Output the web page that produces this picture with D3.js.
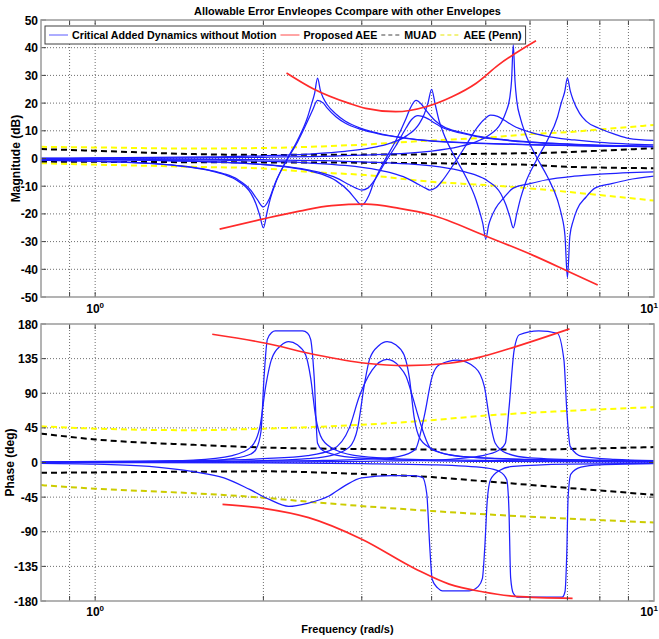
<!DOCTYPE html>
<html>
<head>
<meta charset="utf-8">
<script src="https://cdn.jsdelivr.net/npm/d3@7"></script>
<style>
  body { margin: 0; background: #fff; }
  svg { display: block; }
  text { font-family: Arial, "Liberation Sans", sans-serif; font-weight: bold; fill: #000; }
</style>
</head>
<body>
<svg id="chart" width="659" height="639"></svg>
<script>
// ---------- axis ticks ----------
const freqGrid = [0.9, 1, 2, 3, 4, 5, 6, 7, 8, 9];
const magTicks = [-50, -40, -30, -20, -10, 0, 10, 20, 30, 40, 50];
const phaseTicks = [-180, -135, -90, -45, 0, 45, 90, 135, 180];
const decadeLabels = [1, 10];

// ---------- envelopes: magnitude (dB) ----------
const aeeMagUpper = [[2.2,30.9],[2.45,25.3],[2.85,19.9],[3.05,18.1],[3.45,16.9],[3.91,18.7],[4.35,22.3],[4.8,27.1],[5.27,33.8],[6.15,42.5]];
const aeeMagLower = [[1.67,-25.5],[2.0,-21.8],[2.32,-19],[2.65,-17],[3.05,-16.5],[3.5,-18],[4.0,-20.4],[5.0,-28],[6.05,-34.8],[6.98,-40.5],[7.93,-45.7]];
const muadMagUpper = [[0.8,3.4],[1.0,2.8],[1.5,1.6],[2,1.3],[3,1.4],[5,1.7],[7,2.3],[8,2.8],[10,3.7]];
const muadMagLower = [[0.8,-1.1],[1,-1.2],[2,-1.4],[3,-1.5],[4,-1.7],[5,-2.0],[6,-2.3],[7,-3.0],[10,-3.5]];
const pennMagUpper = [[0.8,4.2],[1,4.0],[1.5,3.6],[2,3.8],[3,5.0],[4,6.5],[5,7.5],[6,8.8],[7,9.5],[8,10.5],[10,12.1]];
const pennMagLower = [[0.8,-1.7],[1.0,-2.2],[1.5,-3.0],[2.0,-3.6],[2.4,-4.8],[3.05,-6],[4.0,-8.4],[5.0,-9.6],[6.0,-10.8],[8.0,-13.2],[10,-15.2]];

// ---------- envelopes: phase (deg) ----------
const aeePhaseUpper = [[1.62,166.7],[2.02,155],[2.48,140],[3.05,129],[3.6,126],[4.3,129],[4.93,137.7],[5.66,150.6],[7.06,173.6]];
const aeePhaseLower = [[1.69,-54.4],[2.0,-59.6],[2.41,-71.7],[3.0,-99.7],[3.75,-138.6],[4.3,-158],[4.93,-168],[5.65,-174],[7.15,-176.6]];
const muadPhaseUpper = [[0.8,37.6],[1.0,30],[1.5,23],[2,19.5],[3,17.5],[4,17],[6,16.8],[8,18.5],[10,20]];
const muadPhaseLower = [[0.8,-13.4],[1.5,-12],[2,-11.5],[3,-15],[4,-19],[5,-24.5],[7,-33],[10,-42]];
const pennPhaseUpper = [[0.8,47],[1,44],[1.5,42],[2,44],[3,49],[4,55],[5,61],[7,67],[10,72]];
const pennPhaseLower = [[0.8,-29.4],[1.0,-34],[1.5,-40],[2,-45.8],[2.5,-52],[4,-63],[5.65,-69.5],[10,-78]];

// ---------- critical added dynamics: magnitude (dB) ----------
const magCase1 = [[0.8,-0.58],[1.0,-0.98],[1.2,-1.6],[1.4,-2.58],[1.6,-4.3],[1.7,-5.75],[1.8,-8.08],[1.9,-12.6],[1.94,-16.4],[1.97,-20.5],[2.0,-25],[2.03,-19.5],[2.06,-14.2],[2.1,-9.2],[2.2,-0.62],[2.3,6.44],[2.4,15],[2.44,19.8],[2.47,23.5],[2.5,29],[2.53,24.5],[2.56,21.8],[2.6,19.5],[2.7,16],[2.8,13.5],[3.0,10.8],[3.2,9.2],[3.6,7.4],[4.0,6.4],[5.0,5.5],[6.0,5.0],[8.0,4.5],[10,4.3]];
const magCase2 = [[0.8,-0.58],[1.0,-0.98],[1.2,-1.6],[1.4,-2.55],[1.6,-4.2],[1.7,-5.5],[1.8,-7.6],[1.9,-11.5],[1.95,-14.8],[2.0,-17.5],[2.05,-14.5],[2.1,-8.8],[2.2,-0.8],[2.3,5.8],[2.4,13.5],[2.45,17.5],[2.5,21],[2.56,20],[2.6,18.3],[2.7,15],[2.8,12.8],[3.0,10.4],[3.2,9.0],[3.6,7.3],[4.0,6.3],[5.0,5.4],[6.0,4.9],[8.0,4.5],[10,4.3]];
const magCase3 = [[0.8,-0.23],[1.0,-0.37],[1.5,-0.98],[1.8,-1.6],[2.1,-2.58],[2.4,-4.3],[2.55,-5.75],[2.7,-8.08],[2.85,-12],[2.91,-14.2],[3.0,-16.8],[3.09,-13.3],[3.15,-8.8],[3.3,-0.6],[3.45,6.4],[3.6,14.4],[3.66,18],[3.75,21],[3.84,19.5],[3.9,17.6],[4.05,13.8],[4.2,11.5],[4.5,9.5],[4.8,8.2],[5.4,6.8],[6.0,6.0],[7.5,5.0],[10,4.4]];
const magCase4 = [[0.8,-0.23],[1.0,-0.37],[1.5,-0.98],[1.8,-1.6],[2.1,-2.5],[2.4,-4.1],[2.55,-5.3],[2.7,-7.0],[2.85,-9.5],[2.93,-10.7],[3.0,-11.4],[3.08,-10.6],[3.15,-8.3],[3.3,-1.5],[3.45,4.5],[3.6,11],[3.68,14],[3.78,15.5],[3.85,15.2],[3.95,14.2],[4.05,12.8],[4.2,11],[4.5,9.2],[4.8,8],[5.4,6.6],[6.0,5.8],[7.5,4.9],[10,4.4]];
const magCase5 = [[0.8,-0.13],[1.0,-0.2],[1.6,-0.58],[2.0,-0.98],[2.4,-1.6],[2.8,-2.5],[3.2,-4.1],[3.4,-5.3],[3.6,-7.0],[3.8,-9.5],[3.9,-10.7],[3.97,-11.4],[4.07,-10.6],[4.17,-8.3],[4.4,-1.5],[4.6,4.5],[4.8,10.5],[4.95,13.8],[5.1,15.7],[5.25,15.2],[5.4,13.8],[5.6,11.8],[6.0,9.5],[6.4,8.1],[7.2,6.7],[8.0,5.8],[10,4.9]];
const magCase6 = [[0.8,0.13],[1.0,0.2],[1.6,0.58],[2.0,0.98],[2.4,1.6],[2.8,2.58],[3.2,4.3],[3.4,5.75],[3.6,8.08],[3.8,12.5],[3.88,16],[3.94,20],[4.0,25],[4.06,19.5],[4.12,14],[4.2,9.1],[4.4,0.62],[4.6,-6.4],[4.8,-14.8],[4.88,-19.5],[4.94,-23.5],[5.0,-29],[5.06,-24],[5.12,-21],[5.2,-18.2],[5.4,-13.9],[5.6,-10.7],[6.0,-9.07],[6.4,-7.76],[7.2,-6.39],[8.0,-5.68],[10,-4.86]];
const magCase7 = [[0.8,-0.07],[1.0,-0.1],[2.0,-0.45],[3.0,-1.2],[4.0,-2.7],[4.48,-4.3],[4.76,-5.75],[5.04,-8.08],[5.32,-12.7],[5.43,-16.6],[5.52,-21],[5.6,-25],[5.68,-20],[5.77,-14.4],[5.88,-9.2],[6.16,-0.62],[6.44,6.44],[6.72,15],[6.83,20.3],[6.92,24],[7.0,29],[7.08,24.5],[7.17,21],[7.36,16.3],[7.56,13.5],[7.97,10.9],[8.5,8.8],[9.0,7.3],[10,6.5]];
const magCase8 = [[0.8,0.07],[1.0,0.1],[2.0,0.45],[3.0,1.2],[4.0,2.7],[4.48,4.3],[4.76,5.75],[5.04,8.08],[5.32,12.7],[5.43,16.6],[5.52,22],[5.56,28],[5.6,41],[5.64,28],[5.68,21],[5.77,14.4],[5.88,9.2],[6.16,0.62],[6.44,-6.44],[6.72,-15],[6.83,-20.3],[6.93,-28],[7.0,-43],[7.07,-28],[7.17,-22.4],[7.28,-18.5],[7.56,-13.9],[7.84,-10.7],[8.4,-9.07],[8.96,-7.76],[10,-6.4]];

// ---------- critical added dynamics: phase (deg) ----------
const phaseCase1 = [[0.8,0.2],[1.2,0.6],[1.5,1.5],[1.76,5],[1.9,11],[1.94,17],[1.98,40],[2.006,112],[2.033,160],[2.07,169],[2.1,171],[2.35,171],[2.4,168],[2.43,160],[2.465,112],[2.5,25],[2.55,16],[2.66,11],[2.85,7],[3.5,3.5],[5,1.5],[10,0.5]];
const phaseCase2 = [[0.8,0.5],[1.2,1.2],[1.5,3],[1.76,9],[1.9,20],[1.97,45],[2.02,100],[2.07,135],[2.15,152],[2.22,157],[2.3,153],[2.38,140],[2.43,110],[2.48,60],[2.55,30],[2.7,16],[3.0,8],[4.0,3.5],[10,1]];
const phaseCase3 = [[0.8,0.3],[1.5,1.2],[2.0,2.5],[2.4,5],[2.64,9],[2.85,20],[2.95,45],[3.03,100],[3.1,135],[3.22,152],[3.33,157],[3.45,153],[3.57,140],[3.65,110],[3.72,60],[3.82,30],[4.05,16],[4.5,8],[6,3.5],[10,1.5]];
const phaseCase4 = [[0.8,0.8],[1.5,2.5],[2.0,5],[2.4,9],[2.66,17],[2.85,45],[2.97,86],[3.13,120],[3.33,134],[3.5,125],[3.6,112],[3.7,85],[3.8,56],[4.0,17],[4.5,8],[6,4],[10,2]];
const phaseCase5 = [[0.8,0.3],[1.5,1],[2.5,2.5],[3.2,5],[3.5,8],[3.74,17],[3.88,60],[4.01,112],[4.13,127],[4.45,133],[4.79,123],[4.97,99],[5.07,60],[5.2,25],[5.43,12.5],[6,6],[8,3],[10,2]];
const phaseCase6 = [[0.8,-1],[1.0,-2],[1.25,-5],[1.5,-12],[1.7,-20],[1.89,-35],[2.05,-48],[2.22,-57],[2.4,-53],[2.62,-43.6],[2.8,-30],[3.0,-20],[3.4,-17],[3.7,-17],[3.85,-19],[3.92,-40],[3.97,-110],[4.01,-152],[4.1,-163],[4.18,-166.7],[4.67,-166.7],[4.85,-161],[4.93,-151],[4.98,-110],[5.03,-50],[5.1,-22],[5.3,-10],[5.6,-5],[7,-2],[10,-1]];
const phaseCase7 = [[0.8,0.1],[2,0.6],[3,1.5],[4,3],[4.6,6],[5.0,10],[5.3,17],[5.42,25],[5.5,69],[5.62,146],[5.74,166],[6.22,171],[6.71,168],[6.9,133],[6.98,69],[7.08,21],[7.43,8],[8.5,4],[10,2.5]];
const phaseCase8 = [[0.8,-0.1],[2,-0.6],[3,-1.5],[4,-3],[5,-7],[5.3,-12],[5.45,-22],[5.5,-60],[5.54,-150],[5.6,-170],[5.7,-175],[6.85,-175],[6.93,-168],[6.98,-120],[7.02,-45],[7.1,-15],[7.4,-6],[8,-3],[10,-1.5]];

const magCases = [magCase1, magCase2, magCase3, magCase4, magCase5, magCase6, magCase7, magCase8];
const phaseCases = [phaseCase1, phaseCase2, phaseCase3, phaseCase4, phaseCase5, phaseCase6, phaseCase7, phaseCase8];

const legendItems = [
  { label: "Critical Added Dynamics without Motion", color: "#5b5bff", dash: null },
  { label: "Proposed AEE", color: "#ff4a4a", dash: null },
  { label: "MUAD", color: "#444", dash: "4,3" },
  { label: "AEE (Penn)", color: "#e6e600", dash: "4,3" }
];

// ---------- layout ----------
const svg = d3.select("#chart");
const left = 41, right = 654;
const x = d3.scaleLog().domain([0.8, 10]).range([left, right]);
const yMag = d3.scaleLinear().domain([-50, 50]).range([297, 20]);
const yPh = d3.scaleLinear().domain([-180, 180]).range([601, 324]);

const BLUE = "#1f1fff", RED = "#ff2a2a", BLACK = "#000", YELLOW = "#ffff00", OLIVE = "#cccc00";

function drawPanel(id, y, ticks) {
  const top = y.range()[1], bottom = y.range()[0];
  const g = svg.append("g");
  g.append("rect").attr("x", left).attr("y", top).attr("width", right - left).attr("height", bottom - top).attr("fill", "#fff");

  // dotted grid
  g.append("g").selectAll("line").data(freqGrid).join("line")
    .attr("x1", d => x(d)).attr("x2", d => x(d)).attr("y1", top).attr("y2", bottom)
    .attr("stroke", "#6e6e6e").attr("stroke-width", 1).attr("stroke-dasharray", "1,2");
  g.append("g").selectAll("line").data(ticks.slice(1, -1)).join("line")
    .attr("x1", left).attr("x2", right).attr("y1", d => y(d)).attr("y2", d => y(d))
    .attr("stroke", "#6e6e6e").attr("stroke-width", 1).attr("stroke-dasharray", "1,2");

  svg.append("clipPath").attr("id", id).append("rect")
    .attr("x", left).attr("y", top).attr("width", right - left).attr("height", bottom - top);
  const plot = svg.append("g").attr("clip-path", `url(#${id})`);
  return { g, plot, top, bottom };
}

function drawFrame(y, ticks, labelY) {
  const top = y.range()[1], bottom = y.range()[0];
  const f = svg.append("g");
  // tick marks
  f.selectAll("line.xt").data(freqGrid).join("line")
    .attr("x1", d => x(d)).attr("x2", d => x(d)).attr("y1", bottom).attr("y2", bottom - 5)
    .attr("stroke", "#444").attr("stroke-width", 1);
  f.selectAll("line.xt2").data(freqGrid).join("line")
    .attr("x1", d => x(d)).attr("x2", d => x(d)).attr("y1", top).attr("y2", top + 5)
    .attr("stroke", "#444").attr("stroke-width", 1);
  f.selectAll("line.yt").data(ticks).join("line")
    .attr("x1", left).attr("x2", left + 5).attr("y1", d => y(d)).attr("y2", d => y(d))
    .attr("stroke", "#444");
  f.selectAll("line.yt2").data(ticks).join("line")
    .attr("x1", right).attr("x2", right - 5).attr("y1", d => y(d)).attr("y2", d => y(d))
    .attr("stroke", "#444");
  f.append("rect").attr("x", left).attr("y", top).attr("width", right - left).attr("height", bottom - top)
    .attr("fill", "none").attr("stroke", "#9a9a9a").attr("stroke-width", 1.5);
  // y tick labels
  f.selectAll("text.yl").data(ticks).join("text")
    .attr("x", left - 3).attr("y", d => y(d) + 4.5).attr("text-anchor", "end")
    .style("font-size", "12px").text(d => d);
  // decade labels (the last one is kept inside the window)
  decadeLabels.forEach(v => {
    const t = f.append("text").attr("y", labelY).style("font-size", "12px");
    t.append("tspan").text("10");
    t.append("tspan").attr("dy", -5).style("font-size", "8px").text(Math.round(Math.log10(v)));
    const w = t.node().getComputedTextLength();
    let px = x(v) - w / 2;
    if (px + w > 658) px = 658 - w;
    t.attr("x", px);
  });
}

// ---- magnitude panel ----
const magPanel = drawPanel("clipMag", yMag, magTicks);
const lmag = d3.line().x(d => x(d[0])).y(d => yMag(d[1])).curve(d3.curveMonotoneX);
function pathMag(data, color, w, dash) {
  magPanel.plot.append("path").attr("d", lmag(data)).attr("fill", "none")
    .attr("stroke", color).attr("stroke-width", w).attr("stroke-dasharray", dash);
}
[pennMagUpper, pennMagLower].forEach(d => pathMag(d, YELLOW, 2, "6,4"));
[muadMagUpper, muadMagLower].forEach(d => pathMag(d, BLACK, 2, "6,4"));
magCases.forEach(d => pathMag(d, BLUE, 1.25, null));
[aeeMagUpper, aeeMagLower].forEach(d => pathMag(d, RED, 1.7, null));
drawFrame(yMag, magTicks, 313);

// ---- phase panel ----
const phPanel = drawPanel("clipPh", yPh, phaseTicks);
const lph = d3.line().x(d => x(d[0])).y(d => yPh(d[1])).curve(d3.curveMonotoneX);
function pathPh(data, color, w, dash) {
  phPanel.plot.append("path").attr("d", lph(data)).attr("fill", "none")
    .attr("stroke", color).attr("stroke-width", w).attr("stroke-dasharray", dash);
}
pathPh(pennPhaseUpper, YELLOW, 2, "6,4");
pathPh(pennPhaseLower, OLIVE, 2, "6,4");
[muadPhaseUpper, muadPhaseLower].forEach(d => pathPh(d, BLACK, 2, "6,4"));
phaseCases.forEach(d => pathPh(d, BLUE, 1.25, null));
[aeePhaseUpper, aeePhaseLower].forEach(d => pathPh(d, RED, 1.7, null));
drawFrame(yPh, phaseTicks, 616);

// ---- titles and axis labels ----
svg.append("text").attr("x", (left + right) / 2).attr("y", 15).attr("text-anchor", "middle")
  .style("font-size", "10.9px").text("Allowable Error Envleopes Ccompare with other Envelopes");
svg.append("text").attr("transform", `translate(20,${yMag(0)}) rotate(-90)`).attr("text-anchor", "middle")
  .style("font-size", "12px").text("Magnitude (dB)");
svg.append("text").attr("transform", `translate(14,${yPh(0)}) rotate(-90)`).attr("text-anchor", "middle")
  .style("font-size", "12px").text("Phase (deg)");
svg.append("text").attr("x", (left + right) / 2).attr("y", 633).attr("text-anchor", "middle")
  .style("font-size", "11px").text("Frequency  (rad/s)");

// ---- legend ----
const lg = svg.append("g");
const box = lg.append("rect").attr("x", 45).attr("y", 26).attr("height", 18).attr("fill", "#fff")
  .attr("stroke", "#404040").attr("stroke-width", 1);
let cx = 49;
legendItems.forEach(item => {
  lg.append("line").attr("x1", cx).attr("x2", cx + 19).attr("y1", 35).attr("y2", 35)
    .attr("stroke", item.color).attr("stroke-width", 1).attr("stroke-dasharray", item.dash);
  const t = lg.append("text").attr("x", cx + 23).attr("y", 39).style("font-size", "10.7px").text(item.label);
  cx += 23 + t.node().getComputedTextLength() + 4;
});
box.attr("width", cx - 45);
</script>
</body>
</html>
